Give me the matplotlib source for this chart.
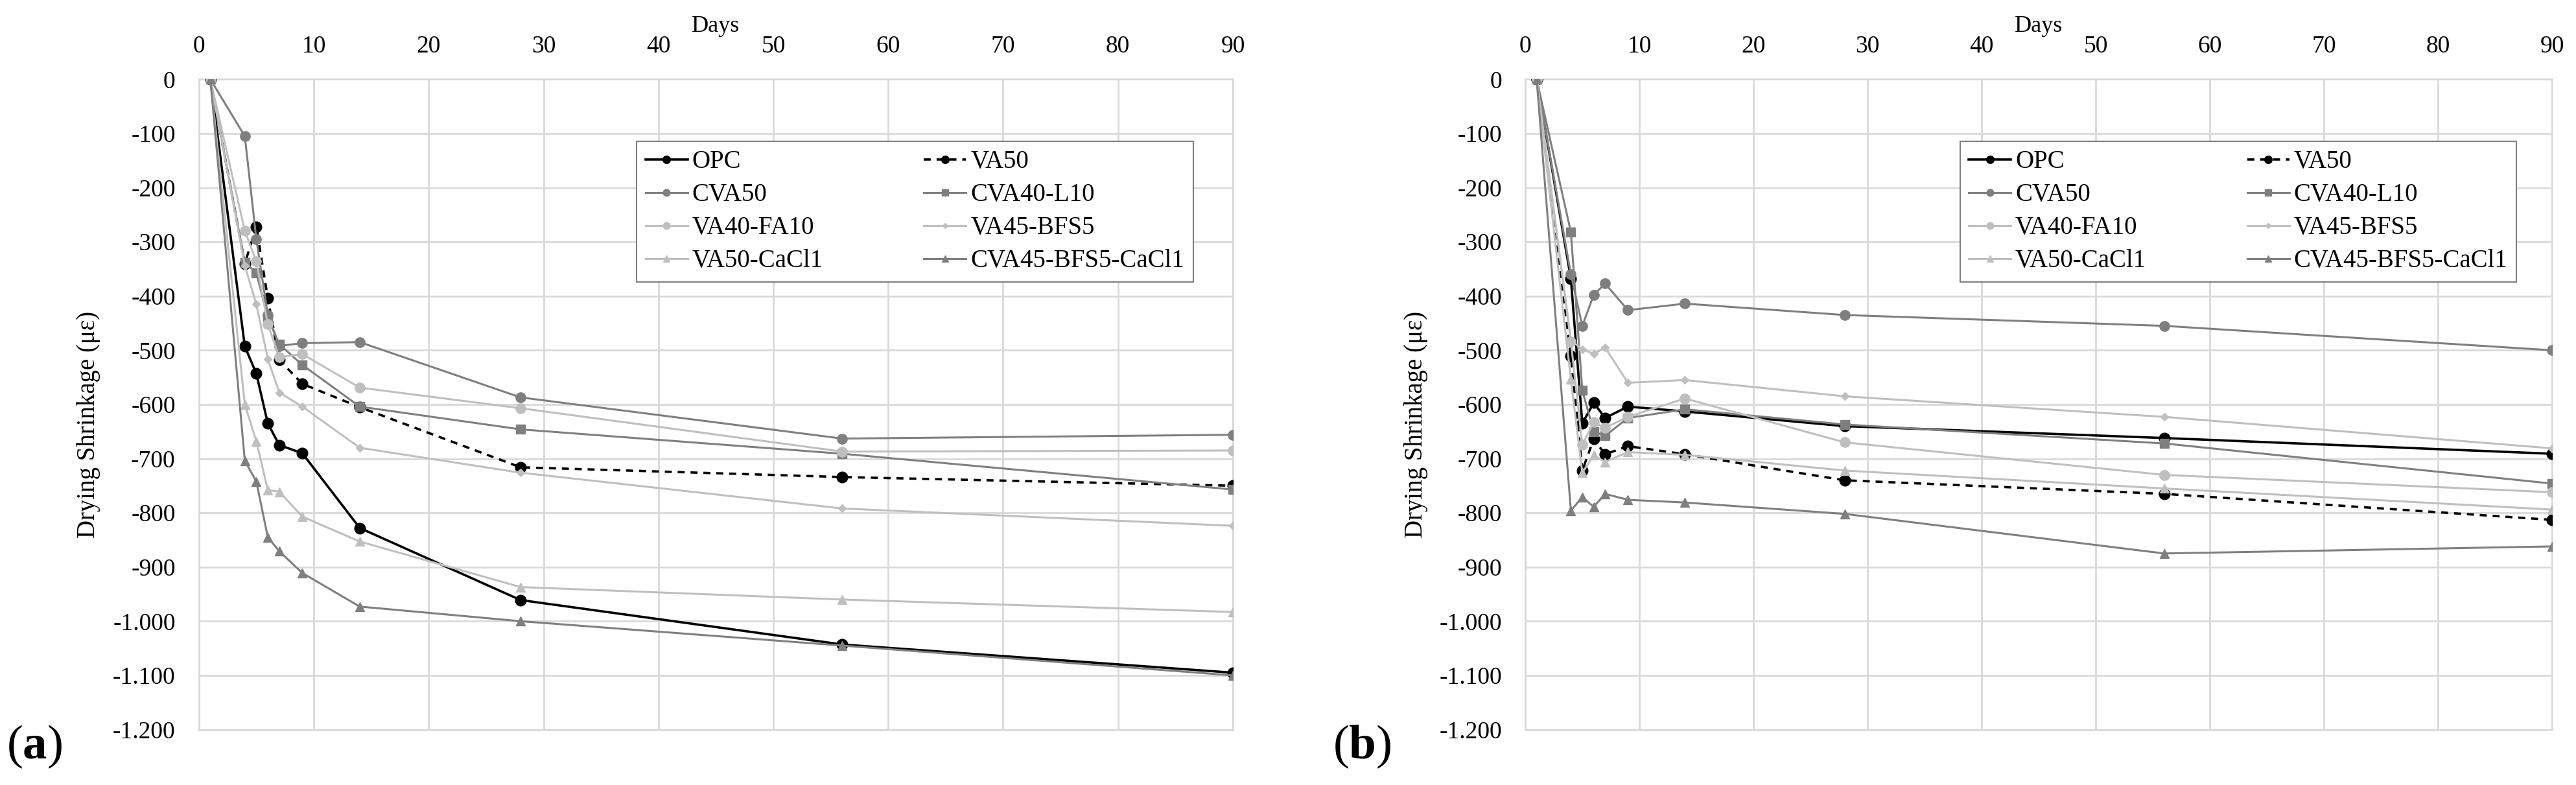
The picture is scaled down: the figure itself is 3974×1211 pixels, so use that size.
import matplotlib
matplotlib.use("Agg")
import matplotlib.pyplot as plt
from matplotlib.ticker import FixedLocator, FuncFormatter

plt.rcParams['font.family'] = ['Liberation Serif', 'DejaVu Serif']
plt.rcParams['mathtext.fontset'] = 'custom'
plt.rcParams['mathtext.rm'] = 'Liberation Serif'
plt.rcParams['mathtext.bf'] = 'Liberation Serif:bold'

# test ages (days)
days = [1, 4, 5, 6, 7, 9, 14, 28, 56, 90]

series_names = ["OPC", "VA50", "CVA50", "CVA40-L10", "VA40-FA10",
                "VA45-BFS5", "VA50-CaCl1", "CVA45-BFS5-CaCl1"]

# panel (a) drying shrinkage, microstrain
a_opc = [0, -493, -543, -635, -675, -690, -828, -961, -1043, -1095]
a_va50 = [0, -340, -272, -404, -518, -562, -605, -716, -734, -750]
a_cva50 = [0, -105, -295, -435, -492, -487, -485, -587, -663, -656]
a_cva40_l10 = [0, -338, -357, -440, -489, -527, -604, -646, -691, -757]
a_va40_fa10 = [0, -280, -336, -452, -513, -507, -569, -607, -687, -685]
a_va45_bfs5 = [0, -344, -415, -516, -578, -604, -680, -726, -792, -824]
a_va50_cacl1 = [0, -600, -668, -758, -761, -807, -853, -937, -960, -983]
a_cva45_bfs5_cacl1 = [0, -704, -742, -845, -871, -911, -973, -1000, -1045, -1100]

# panel (b)
b_opc = [0, -368, -635, -597, -625, -604, -613, -640, -662, -691]
b_va50 = [0, -510, -722, -664, -692, -677, -692, -740, -765, -813]
b_cva50 = [0, -360, -455, -398, -377, -426, -414, -435, -455, -500]
b_cva40_l10 = [0, -282, -574, -650, -658, -625, -609, -637, -672, -746]
b_va40_fa10 = [0, -484, -674, -633, -643, -623, -589, -670, -730, -762]
b_va45_bfs5 = [0, -482, -498, -507, -495, -560, -555, -585, -623, -681]
b_va50_cacl1 = [0, -554, -726, -694, -706, -688, -693, -722, -755, -794]
b_cva45_bfs5_cacl1 = [0, -796, -771, -789, -765, -776, -781, -802, -875, -862]

x_ticks = list(range(0, 91, 10))
y_ticks = list(range(-1200, 1, 100))

DARK = "#000000"
MID = "#7f7f7f"
LIGHT = "#bfbfbf"
GRID = "#d9d9d9"

# colour, linestyle, marker, markersize for each series
styles = [
    (DARK, "-", "o", 12),
    (DARK, (0, (3, 2.5)), "o", 12),
    (MID, "-", "o", 11),
    (MID, "-", "s", 10.5),
    (LIGHT, "-", "o", 11),
    (LIGHT, "-", "D", 6),
    (LIGHT, "-", "^", 10),
    (MID, "-", "^", 10),
]


def thousands(v, pos):
    # Excel style: dot as thousands separator, plain hyphen
    s = f"{int(v):,}".replace(",", ".")
    return s


def draw_panel(ax, data):
    for name, vals, (col, ls, mk, ms) in zip(series_names, data, styles):
        lw = 2.6 if col == DARK else 2.2
        ax.plot(days, vals, color=col, linestyle=ls, marker=mk, markersize=ms,
                markerfacecolor=col, markeredgecolor=col, linewidth=lw,
                label=name, zorder=3)

    ax.set_xlim(0, 90)
    ax.set_ylim(-1200, 0)
    ax.xaxis.set_major_locator(FixedLocator(x_ticks))
    ax.yaxis.set_major_locator(FixedLocator(y_ticks))
    ax.yaxis.set_major_formatter(FuncFormatter(thousands))
    ax.xaxis.tick_top()
    ax.tick_params(axis="x", length=0, pad=24, labelsize=27)
    ax.tick_params(axis="y", length=0, pad=26, labelsize=27)
    ax.grid(True, color=GRID, linewidth=2, zorder=0)
    ax.set_axisbelow(True)
    for sp in ax.spines.values():
        sp.set_color(GRID)
        sp.set_linewidth(2)

    ax.text(0.5, 1.082, "Days", transform=ax.transAxes, ha="center",
            va="center", fontsize=26)
    ax.set_ylabel("Drying Shrinkage (με)", fontsize=28)
    ax.yaxis.set_label_coords(-0.095, 0.469)

    handles, labels = ax.get_legend_handles_labels()
    order = [0, 2, 4, 6, 1, 3, 5, 7]
    leg = ax.legend([handles[i] for i in order], [labels[i] for i in order],
                    ncol=2, loc="upper left", bbox_to_anchor=(0.4233, 0.905),
                    borderaxespad=0, fontsize=28, handlelength=1.67,
                    handletextpad=0.18, columnspacing=4.0, labelspacing=0.36,
                    borderpad=0.35, markerscale=0.7, fancybox=False,
                    framealpha=1, edgecolor=MID)
    leg.get_frame().set_linewidth(1.5)


fig = plt.figure(figsize=(39.74, 12.11), dpi=100)
ax_a = fig.add_axes([0.0772, 0.0706, 0.4014, 0.8284])
ax_b = fig.add_axes([0.5921, 0.0706, 0.3986, 0.8284])

draw_panel(ax_a, [a_opc, a_va50, a_cva50, a_cva40_l10, a_va40_fa10,
                  a_va45_bfs5, a_va50_cacl1, a_cva45_bfs5_cacl1])
draw_panel(ax_b, [b_opc, b_va50, b_cva50, b_cva40_l10, b_va40_fa10,
                  b_va45_bfs5, b_va50_cacl1, b_cva45_bfs5_cacl1])

fig.text(10 / 3974, 1 - 1152 / 1211, r"($\mathbf{a}$)", fontsize=54,
         ha="left", va="center")
fig.text(2056 / 3974, 1 - 1152 / 1211, r"($\mathbf{b}$)", fontsize=54,
         ha="left", va="center")

fig.savefig("out.png", dpi=100)
